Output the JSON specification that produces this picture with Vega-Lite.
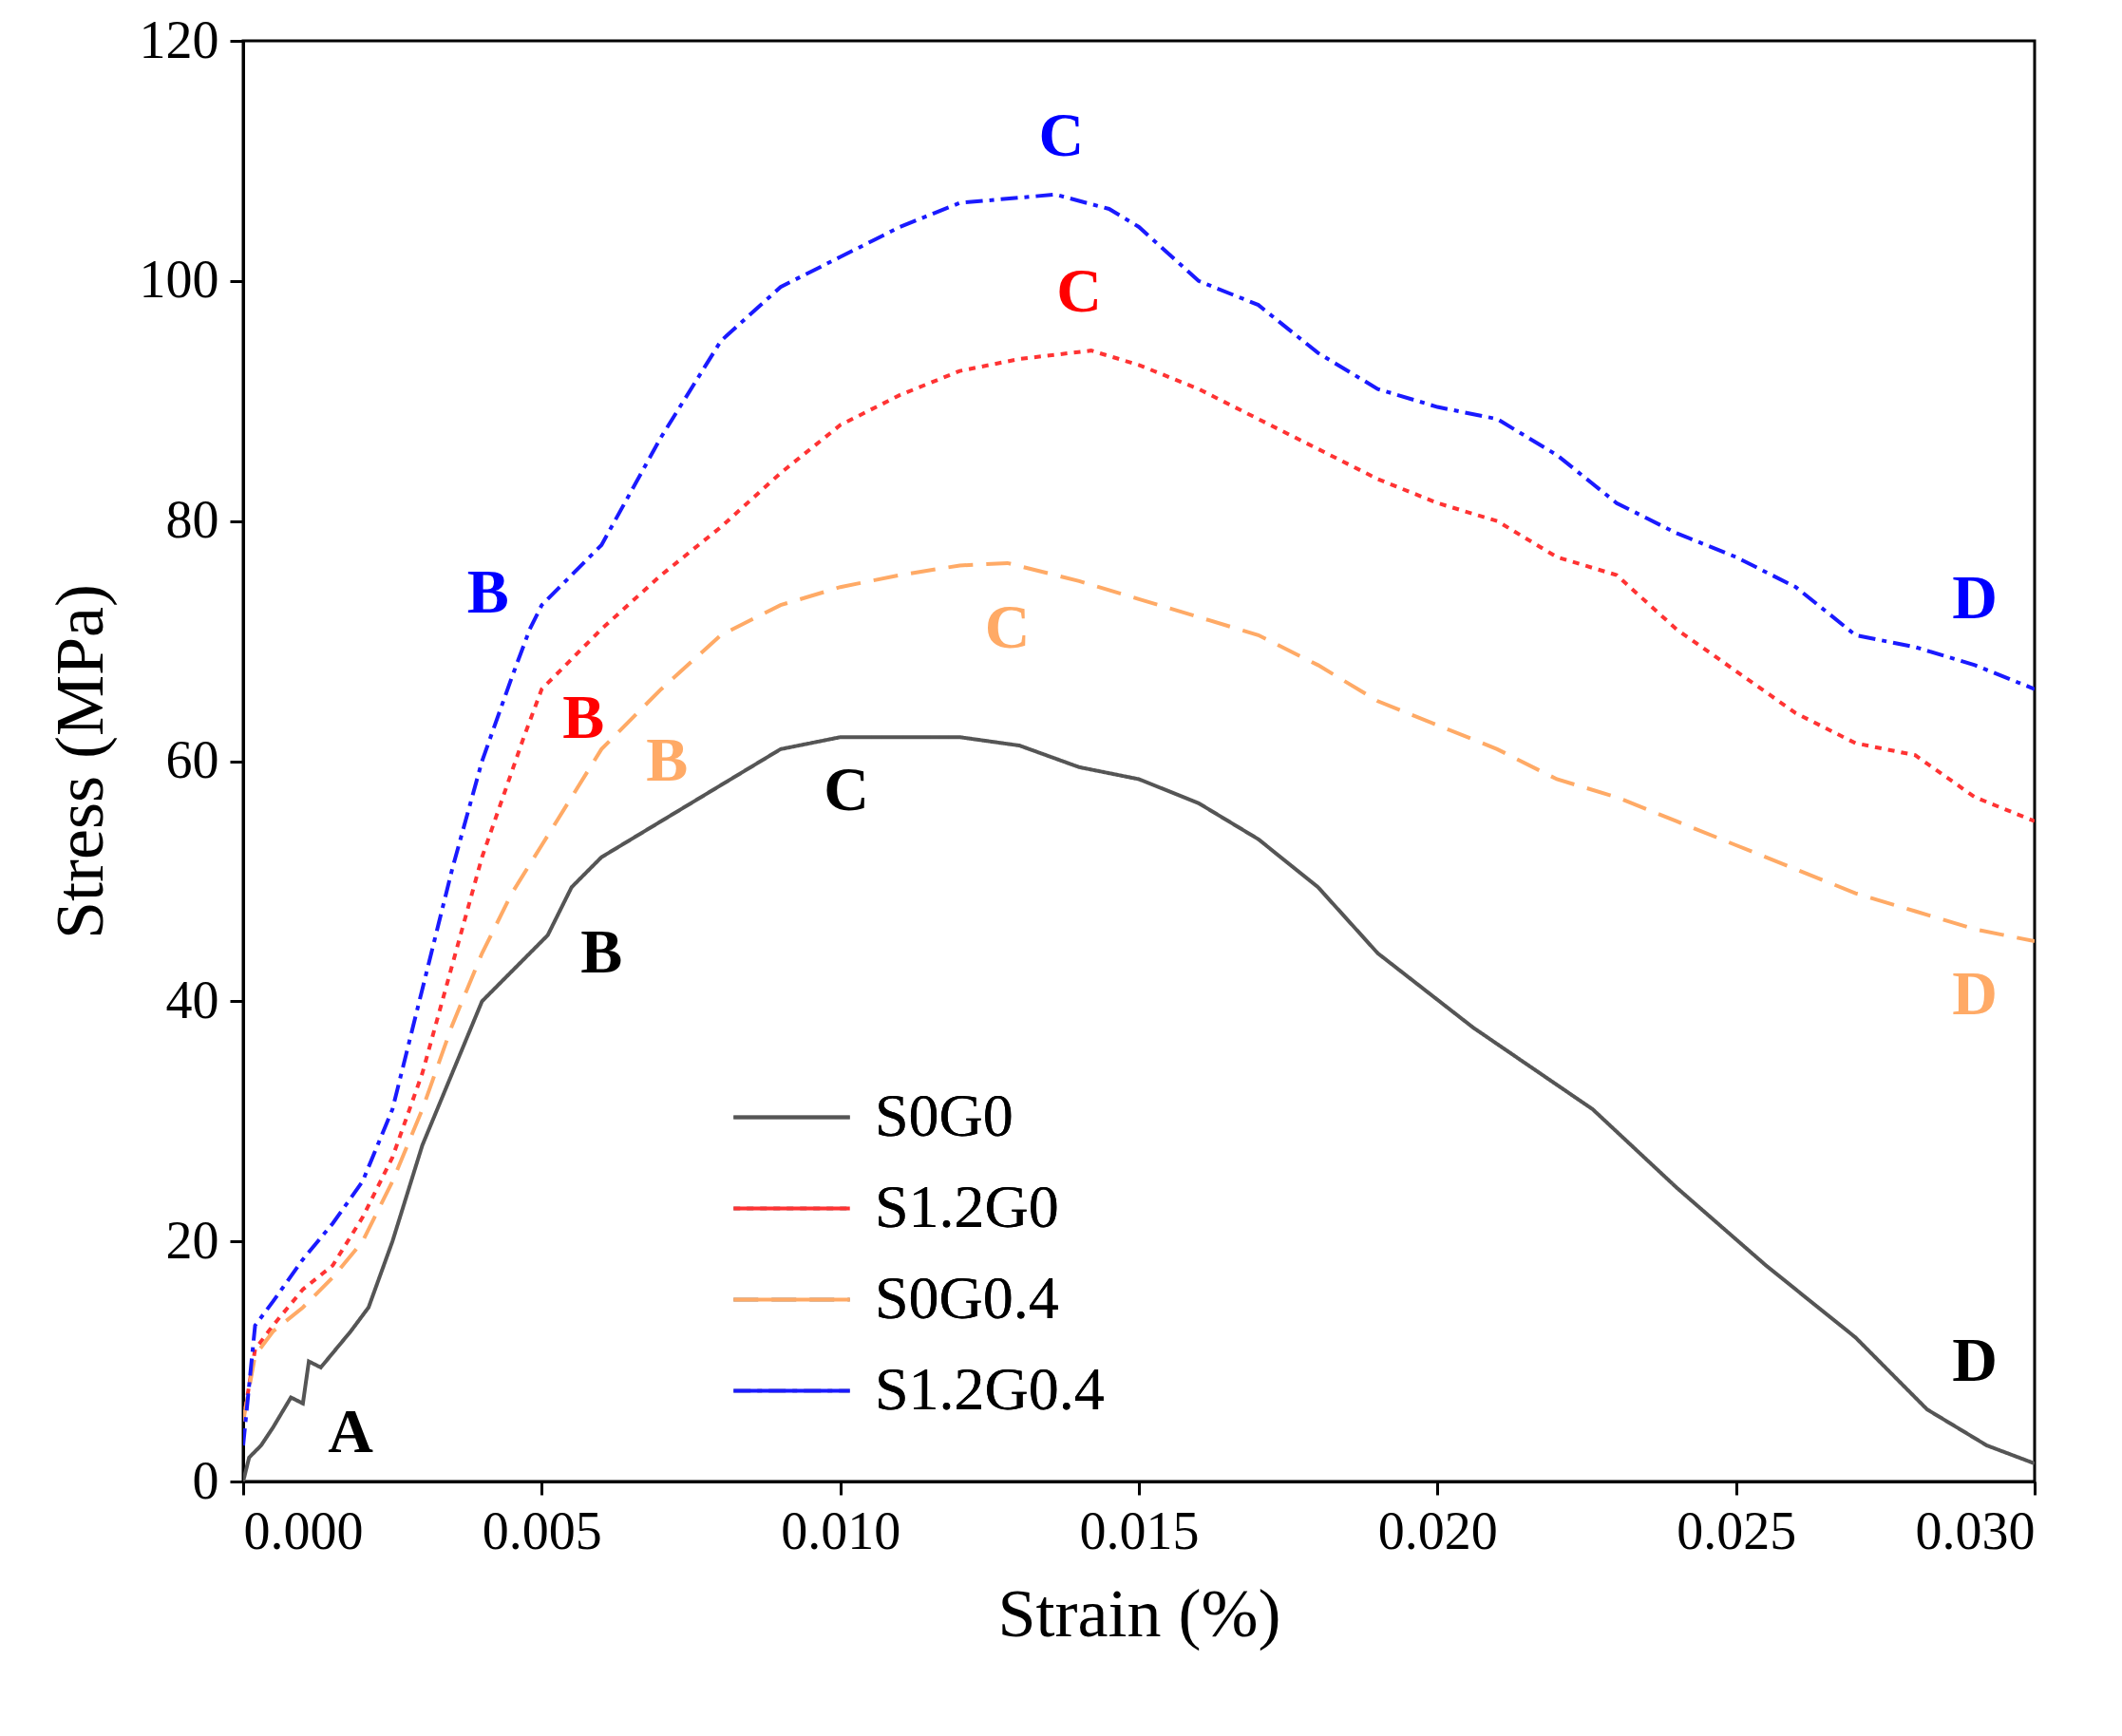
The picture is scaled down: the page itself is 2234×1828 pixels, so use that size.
{
  "$schema": "https://vega.github.io/schema/vega-lite/v6.json",
  "autosize": "none",
  "width": 1886,
  "height": 1517,
  "padding": {"left": 256, "top": 43, "right": 92, "bottom": 268},
  "background": "white",
  "config": {
    "font": "Liberation Serif",
    "view": {"stroke": "black", "strokeWidth": 3},
    "axis": {"labelFont": "Liberation Serif", "titleFont": "Liberation Serif", "labelFontSize": 56, "titleFontSize": 72, "titleFontWeight": "normal", "labelColor": "black", "titleColor": "black", "domainColor": "black", "domainWidth": 3, "tickColor": "black", "tickWidth": 3, "tickSize": 14, "grid": false, "labelPadding": 12}
  },
  "layer": [
    {
      "data": {"values": [
        {"s":"S0G0","x":0,"y":0},{"s":"S0G0","x":0.0001,"y":2},{"s":"S0G0","x":0.0003,"y":3},{"s":"S0G0","x":0.0005,"y":4.5},{"s":"S0G0","x":0.0008,"y":7},{"s":"S0G0","x":0.001,"y":6.5},{"s":"S0G0","x":0.0011,"y":10},{"s":"S0G0","x":0.0013,"y":9.5},{"s":"S0G0","x":0.0018,"y":12.5},{"s":"S0G0","x":0.0021,"y":14.5},{"s":"S0G0","x":0.0025,"y":20},{"s":"S0G0","x":0.003,"y":28},{"s":"S0G0","x":0.0035,"y":34},{"s":"S0G0","x":0.004,"y":40},{"s":"S0G0","x":0.0047,"y":43.5},{"s":"S0G0","x":0.0051,"y":45.5},{"s":"S0G0","x":0.0055,"y":49.5},{"s":"S0G0","x":0.006,"y":52},{"s":"S0G0","x":0.007,"y":55},{"s":"S0G0","x":0.008,"y":58},{"s":"S0G0","x":0.009,"y":61},{"s":"S0G0","x":0.01,"y":62},{"s":"S0G0","x":0.012,"y":62},{"s":"S0G0","x":0.013,"y":61.3},{"s":"S0G0","x":0.014,"y":59.5},{"s":"S0G0","x":0.015,"y":58.5},{"s":"S0G0","x":0.016,"y":56.5},{"s":"S0G0","x":0.017,"y":53.5},{"s":"S0G0","x":0.018,"y":49.5},{"s":"S0G0","x":0.019,"y":44},{"s":"S0G0","x":0.0206,"y":37.8},{"s":"S0G0","x":0.0226,"y":31},{"s":"S0G0","x":0.024,"y":24.5},{"s":"S0G0","x":0.0255,"y":18},{"s":"S0G0","x":0.027,"y":12},{"s":"S0G0","x":0.0282,"y":6},{"s":"S0G0","x":0.0292,"y":3},{"s":"S0G0","x":0.03,"y":1.5},
        {"s":"S1.2G0","x":0,"y":5},{"s":"S1.2G0","x":0.0002,"y":11},{"s":"S1.2G0","x":0.0005,"y":13},{"s":"S1.2G0","x":0.001,"y":16},{"s":"S1.2G0","x":0.0015,"y":18},{"s":"S1.2G0","x":0.002,"y":22},{"s":"S1.2G0","x":0.0025,"y":27},{"s":"S1.2G0","x":0.003,"y":34},{"s":"S1.2G0","x":0.0035,"y":43},{"s":"S1.2G0","x":0.004,"y":52},{"s":"S1.2G0","x":0.0047,"y":62},{"s":"S1.2G0","x":0.005,"y":66},{"s":"S1.2G0","x":0.0055,"y":68.5},{"s":"S1.2G0","x":0.006,"y":71},{"s":"S1.2G0","x":0.007,"y":75.5},{"s":"S1.2G0","x":0.008,"y":79.5},{"s":"S1.2G0","x":0.009,"y":84},{"s":"S1.2G0","x":0.01,"y":88},{"s":"S1.2G0","x":0.011,"y":90.5},{"s":"S1.2G0","x":0.012,"y":92.5},{"s":"S1.2G0","x":0.013,"y":93.5},{"s":"S1.2G0","x":0.0142,"y":94.2},{"s":"S1.2G0","x":0.015,"y":93},{"s":"S1.2G0","x":0.016,"y":91},{"s":"S1.2G0","x":0.017,"y":88.5},{"s":"S1.2G0","x":0.018,"y":86},{"s":"S1.2G0","x":0.019,"y":83.5},{"s":"S1.2G0","x":0.02,"y":81.5},{"s":"S1.2G0","x":0.021,"y":80},{"s":"S1.2G0","x":0.022,"y":77},{"s":"S1.2G0","x":0.023,"y":75.5},{"s":"S1.2G0","x":0.024,"y":71},{"s":"S1.2G0","x":0.025,"y":67.5},{"s":"S1.2G0","x":0.026,"y":64},{"s":"S1.2G0","x":0.027,"y":61.5},{"s":"S1.2G0","x":0.028,"y":60.5},{"s":"S1.2G0","x":0.029,"y":57},{"s":"S1.2G0","x":0.03,"y":55},
        {"s":"S0G0.4","x":0,"y":5},{"s":"S0G0.4","x":0.0002,"y":10.5},{"s":"S0G0.4","x":0.0005,"y":12.5},{"s":"S0G0.4","x":0.001,"y":14.5},{"s":"S0G0.4","x":0.0015,"y":17},{"s":"S0G0.4","x":0.002,"y":20},{"s":"S0G0.4","x":0.0025,"y":25},{"s":"S0G0.4","x":0.003,"y":31},{"s":"S0G0.4","x":0.0035,"y":38},{"s":"S0G0.4","x":0.004,"y":44},{"s":"S0G0.4","x":0.0045,"y":49},{"s":"S0G0.4","x":0.005,"y":53},{"s":"S0G0.4","x":0.0055,"y":57},{"s":"S0G0.4","x":0.006,"y":61},{"s":"S0G0.4","x":0.007,"y":66},{"s":"S0G0.4","x":0.008,"y":70.5},{"s":"S0G0.4","x":0.009,"y":73},{"s":"S0G0.4","x":0.01,"y":74.5},{"s":"S0G0.4","x":0.011,"y":75.5},{"s":"S0G0.4","x":0.012,"y":76.3},{"s":"S0G0.4","x":0.0128,"y":76.5},{"s":"S0G0.4","x":0.014,"y":75},{"s":"S0G0.4","x":0.015,"y":73.5},{"s":"S0G0.4","x":0.016,"y":72},{"s":"S0G0.4","x":0.017,"y":70.5},{"s":"S0G0.4","x":0.018,"y":68},{"s":"S0G0.4","x":0.019,"y":65},{"s":"S0G0.4","x":0.02,"y":63},{"s":"S0G0.4","x":0.021,"y":61},{"s":"S0G0.4","x":0.022,"y":58.5},{"s":"S0G0.4","x":0.023,"y":57},{"s":"S0G0.4","x":0.024,"y":55},{"s":"S0G0.4","x":0.025,"y":53},{"s":"S0G0.4","x":0.026,"y":51},{"s":"S0G0.4","x":0.027,"y":49},{"s":"S0G0.4","x":0.028,"y":47.5},{"s":"S0G0.4","x":0.029,"y":46},{"s":"S0G0.4","x":0.03,"y":45},
        {"s":"S1.2G0.4","x":0,"y":3},{"s":"S1.2G0.4","x":0.0002,"y":13},{"s":"S1.2G0.4","x":0.0005,"y":15},{"s":"S1.2G0.4","x":0.001,"y":18.5},{"s":"S1.2G0.4","x":0.0015,"y":21.5},{"s":"S1.2G0.4","x":0.002,"y":25},{"s":"S1.2G0.4","x":0.0025,"y":31},{"s":"S1.2G0.4","x":0.003,"y":41},{"s":"S1.2G0.4","x":0.0035,"y":51},{"s":"S1.2G0.4","x":0.004,"y":60},{"s":"S1.2G0.4","x":0.0045,"y":67},{"s":"S1.2G0.4","x":0.0048,"y":71},{"s":"S1.2G0.4","x":0.005,"y":73},{"s":"S1.2G0.4","x":0.006,"y":78},{"s":"S1.2G0.4","x":0.007,"y":87},{"s":"S1.2G0.4","x":0.008,"y":95},{"s":"S1.2G0.4","x":0.009,"y":99.5},{"s":"S1.2G0.4","x":0.01,"y":102},{"s":"S1.2G0.4","x":0.011,"y":104.5},{"s":"S1.2G0.4","x":0.012,"y":106.5},{"s":"S1.2G0.4","x":0.0136,"y":107.2},{"s":"S1.2G0.4","x":0.0145,"y":106},{"s":"S1.2G0.4","x":0.015,"y":104.5},{"s":"S1.2G0.4","x":0.016,"y":100},{"s":"S1.2G0.4","x":0.017,"y":98},{"s":"S1.2G0.4","x":0.018,"y":94},{"s":"S1.2G0.4","x":0.019,"y":91},{"s":"S1.2G0.4","x":0.02,"y":89.5},{"s":"S1.2G0.4","x":0.021,"y":88.5},{"s":"S1.2G0.4","x":0.022,"y":85.5},{"s":"S1.2G0.4","x":0.023,"y":81.5},{"s":"S1.2G0.4","x":0.024,"y":79},{"s":"S1.2G0.4","x":0.025,"y":77},{"s":"S1.2G0.4","x":0.026,"y":74.5},{"s":"S1.2G0.4","x":0.027,"y":70.5},{"s":"S1.2G0.4","x":0.028,"y":69.5},{"s":"S1.2G0.4","x":0.029,"y":68},{"s":"S1.2G0.4","x":0.03,"y":66}
      ]},
      "mark": {"type": "line", "strokeWidth": 4, "clip": true},
      "encoding": {
        "x": {"field": "x", "type": "quantitative", "title": "Strain (%)", "scale": {"domain": [0, 0.03], "nice": false}, "axis": {"values": [0, 0.005, 0.01, 0.015, 0.02, 0.025, 0.03], "format": ".3f", "titlePadding": 24}},
        "y": {"field": "y", "type": "quantitative", "title": "Stress (MPa)", "scale": {"domain": [0, 120], "nice": false}, "axis": {"values": [0, 20, 40, 60, 80, 100, 120], "titlePadding": 24}},
        "color": {"field": "s", "type": "nominal", "sort": ["S0G0", "S1.2G0", "S0G0.4", "S1.2G0.4"], "scale": {"domain": ["S0G0", "S1.2G0", "S0G0.4", "S1.2G0.4"], "range": ["#555555", "#ff3333", "#ffaa66", "#1a1aff"]},
          "legend": {"title": null, "orient": "none", "legendX": 514, "legendY": 1070, "symbolType": "stroke", "symbolSize": 15000, "symbolStrokeWidth": 4, "labelFontSize": 64, "labelFont": "Liberation Serif", "labelColor": "black", "labelLimit": 0, "rowPadding": 0, "labelOffset": 24}},
        "strokeDash": {"field": "s", "type": "nominal", "sort": ["S0G0", "S1.2G0", "S0G0.4", "S1.2G0.4"], "scale": {"domain": ["S0G0", "S1.2G0", "S0G0.4", "S1.2G0.4"], "range": [[1, 0], [7, 7], [26, 14], [18, 7, 5, 7]]},
          "legend": {"title": null, "orient": "none", "legendX": 514, "legendY": 1070, "symbolType": "stroke", "symbolSize": 15000, "symbolStrokeWidth": 4, "labelFontSize": 64, "labelFont": "Liberation Serif", "labelColor": "black", "labelLimit": 0, "rowPadding": 0, "labelOffset": 24}}
      }
    },
    {
      "data": {"values": [
        {"x":0.0018,"y":4,"t":"A","c":"black"},
        {"x":0.006,"y":44,"t":"B","c":"black"},
        {"x":0.0071,"y":60,"t":"B","c":"#ffaa66"},
        {"x":0.0057,"y":63.5,"t":"B","c":"red"},
        {"x":0.0041,"y":74,"t":"B","c":"blue"},
        {"x":0.0137,"y":112,"t":"C","c":"blue"},
        {"x":0.014,"y":99,"t":"C","c":"red"},
        {"x":0.0128,"y":71,"t":"C","c":"#ffaa66"},
        {"x":0.0101,"y":57.5,"t":"C","c":"black"},
        {"x":0.029,"y":73.5,"t":"D","c":"blue"},
        {"x":0.029,"y":40.5,"t":"D","c":"#ffaa66"},
        {"x":0.029,"y":10,"t":"D","c":"black"}
      ]},
      "mark": {"type": "text", "fontSize": 66, "fontWeight": "bold", "font": "Liberation Serif"},
      "encoding": {
        "x": {"field": "x", "type": "quantitative"},
        "y": {"field": "y", "type": "quantitative"},
        "text": {"field": "t"},
        "color": {"field": "c", "type": "nominal", "scale": null, "legend": null}
      }
    }
  ],
  "resolve": {"scale": {"color": "independent"}}
}
